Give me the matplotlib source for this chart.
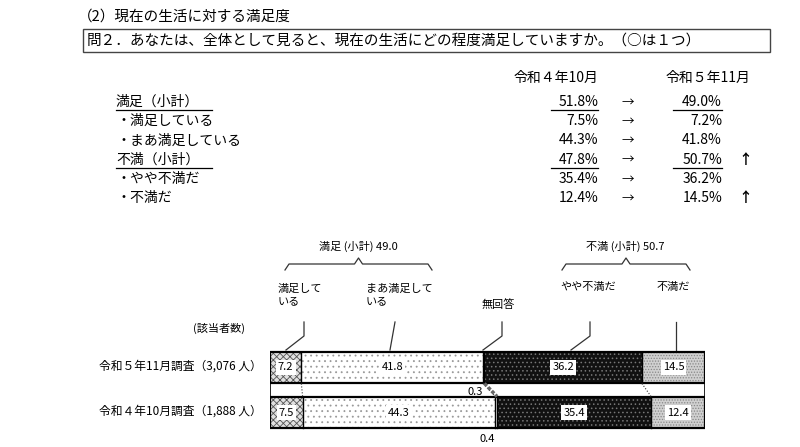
import matplotlib
matplotlib.use("Agg")
import matplotlib.pyplot as plt
import numpy as np

plt.rcParams["font.family"] = "Noto Sans CJK JP"
plt.rcParams["hatch.linewidth"] = 0.6

rows = ["令和５年11月調査（3,076 人）", "令和４年10月調査（1,888 人）"]
cats = ["満足している", "まあ満足している", "無回答", "やや不満だ", "不満だ"]
vals = {
    "令和５年11月調査（3,076 人）": [7.2, 41.8, 0.3, 36.2, 14.5],
    "令和４年10月調査（1,888 人）": [7.5, 44.3, 0.4, 35.4, 12.4],
}
tbl_labels = ["満足（小計）", "・満足している", "・まあ満足している", "不満（小計）", "・やや不満だ", "・不満だ"]
tbl_r4 = ["51.8%", "7.5%", "44.3%", "47.8%", "35.4%", "12.4%"]
tbl_r5 = ["49.0%", "7.2%", "41.8%", "50.7%", "36.2%", "14.5%"]
tbl_up = ["", "", "", "↑", "", "↑"]
tbl_sub = [True, False, False, True, False, False]

fig = plt.figure(figsize=(8, 4.47), dpi=100)
ov = fig.add_axes([0, 0, 1, 1])
ov.set_xlim(0, 800); ov.set_ylim(447, 0); ov.axis("off")

ov.text(78, 17, "（2）現在の生活に対する満足度", fontsize=10.5, va="center")
ov.add_patch(plt.Rectangle((83, 29), 687, 23, fill=False, lw=1, ec="#444"))
ov.text(87, 40.5, "問２．あなたは、全体として見ると、現在の生活にどの程度満足していますか。（○は１つ）", fontsize=10.5, va="center")
ov.text(598, 78, "令和４年10月", fontsize=10, ha="right", va="center")
ov.text(750, 78, "令和５年11月", fontsize=10, ha="right", va="center")
for i, lab in enumerate(tbl_labels):
    y = 102 + i * 19.2
    ov.text(116, y, lab, fontsize=10, va="center")
    ov.text(598, y, tbl_r4[i], fontsize=10, ha="right", va="center")
    ov.text(628, y, "→", fontsize=9, ha="center", va="center")
    ov.text(722, y, tbl_r5[i], fontsize=10, ha="right", va="center")
    if tbl_up[i]:
        ov.text(745, y, tbl_up[i], fontsize=10, ha="center", va="center", fontweight="bold")
    if tbl_sub[i]:
        ov.plot([116, 212], [y + 8, y + 8], color="k", lw=0.9)
        ov.plot([551, 598], [y + 8, y + 8], color="k", lw=0.9)
        ov.plot([673, 722], [y + 8, y + 8], color="k", lw=0.9)

def brace(x0, x1, y):
    xm = (x0 + x1) / 2
    ov.plot([x0, x0 + 4, xm - 4, xm, xm + 4, x1 - 4, x1],
            [y + 6, y, y, y - 6, y, y, y + 6], color="#333", lw=0.9)
brace(285, 432, 264)
brace(562, 690, 264)
ov.text(358, 246, "満足 (小計) 49.0", fontsize=8, ha="center", va="center")
ov.text(625, 246, "不満 (小計) 50.7", fontsize=8, ha="center", va="center")
ov.text(278, 295, "満足して\nいる", fontsize=8, va="center", linespacing=1.3)
ov.text(366, 295, "まあ満足して\nいる", fontsize=8, va="center", linespacing=1.3)
ov.text(482, 305, "無回答", fontsize=8, va="center")
ov.text(560, 287, "やや不満だ", fontsize=8, va="center")
ov.text(657, 287, "不満だ", fontsize=8, va="center")
for xs, ys in [([304, 304, 286], [322, 336, 350]), ([395, 390], [322, 350]),
               ([502, 502, 483], [322, 336, 350]), ([590, 590, 571], [322, 336, 350]),
               ([676, 676], [322, 350])]:
    ov.plot(xs, ys, color="#333", lw=0.9)
ov.text(193, 328, "(該当者数)", fontsize=8, va="center")
ov.text(475, 392, "0.3", fontsize=8, ha="center", va="center")
ov.text(487, 439, "0.4", fontsize=8, ha="center", va="center")

ax = fig.add_axes([270 / 800, 1 - 435 / 447, 435 / 800, 90 / 447])
ax.set_xlim(0, 100); ax.set_ylim(1.5, -0.5); ax.axis("off")
styles = [dict(fc="#e0e0e0", hatch="xxxxx", ec="#555555"),
          dict(fc="white", hatch="...", ec="#999999"),
          dict(fc="white", hatch=None, ec="k"),
          dict(fc="#111111", hatch="....", ec="#777777"),
          dict(fc="#d0d0d0", hatch="......", ec="#888888")]
h = 0.71
bounds = []
for r, name in enumerate(rows):
    left = 0
    b = [0]
    for j, v in enumerate(vals[name]):
        st = styles[j]
        ax.barh(r, v, left=left, height=h, color=st["fc"], hatch=st["hatch"], edgecolor=st["ec"], lw=0)
        if j != 2:
            ax.text(left + v / 2, r, f"{v}", fontsize=8, ha="center", va="center",
                    bbox=dict(fc="white", ec="none", pad=1.5))
        left += v
        b.append(left)
    ax.add_patch(plt.Rectangle((0, r - h / 2), 100, h, fill=False, ec="k", lw=1.6))
    for x in b[1:-1]:
        ax.plot([x, x], [r - h / 2, r + h / 2], color="k", lw=1)
    bounds.append(b)
    ov.text(262, 366 + r * 45, name, fontsize=8.5, ha="right", va="center")
for k in [1, 2, 4]:
    ax.plot([bounds[0][k], bounds[1][k]], [h / 2, 1 - h / 2], color="#333", lw=0.8, ls=":")
ax.plot([0, 0], [h / 2, 1 - h / 2], color="k", lw=1.2)
ax.plot([100, 100], [h / 2, 1 - h / 2], color="k", lw=1.2)
ax.plot([bounds[0][3], bounds[1][3]], [h / 2, 1 - h / 2], color="#666", lw=2.5, ls=(0, (1, 0.5)))

fig.savefig("out.png", dpi=100)
